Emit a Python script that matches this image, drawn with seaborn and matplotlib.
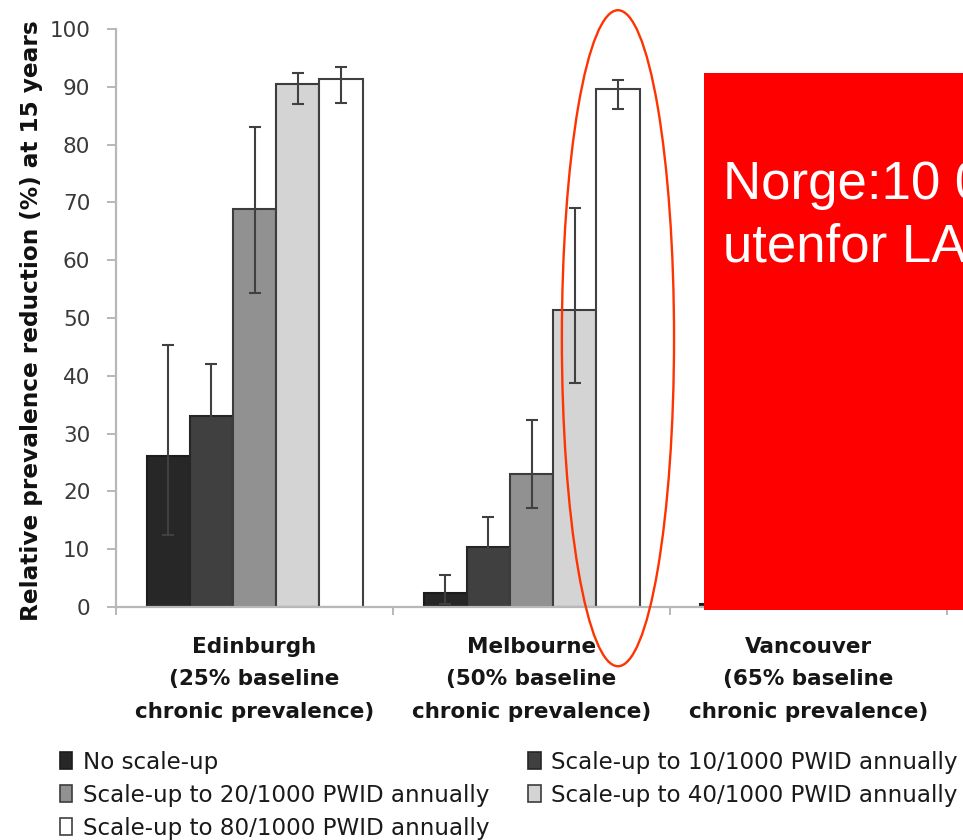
import numpy as np
import pandas as pd
import matplotlib
matplotlib.use("Agg")
import matplotlib.pyplot as plt
from matplotlib.patches import Ellipse, Rectangle, Patch
import seaborn as sns

# ---- data -------------------------------------------------------------
cities = [
    "Edinburgh\n(25% baseline\nchronic prevalence)",
    "Melbourne\n(50% baseline\nchronic prevalence)",
    "Vancouver\n(65% baseline\nchronic prevalence)",
]
scenarios = [
    "No scale-up",
    "Scale-up to 10/1000 PWID annually",
    "Scale-up to 20/1000 PWID annually",
    "Scale-up to 40/1000 PWID annually",
    "Scale-up to 80/1000 PWID annually",
]

# relative prevalence reduction (%) at 15 years: Edinburgh, Melbourne, Vancouver
no_scale_up = [26.2, 2.4, 0.5]
scale_10 = [33.1, 10.4, 3.0]
scale_20 = [68.9, 23.0, 7.5]
scale_40 = [90.5, 51.3, 19.0]
scale_80 = [91.4, 89.6, 62.0]

# uncertainty intervals (lower, upper)
no_scale_up_lo = [12.4, 0.6, 0.0]
no_scale_up_hi = [45.4, 5.5, 1.5]
scale_10_lo = [23.9, 7.8, 1.5]
scale_10_hi = [42.0, 15.6, 5.0]
scale_20_lo = [54.3, 17.1, 4.5]
scale_20_hi = [83.0, 32.4, 11.0]
scale_40_lo = [87.0, 38.7, 13.0]
scale_40_hi = [92.3, 69.1, 27.0]
scale_80_lo = [87.2, 86.2, 48.0]
scale_80_hi = [93.5, 91.2, 76.0]

values = [no_scale_up, scale_10, scale_20, scale_40, scale_80]
lows = [no_scale_up_lo, scale_10_lo, scale_20_lo, scale_40_lo, scale_80_lo]
highs = [no_scale_up_hi, scale_10_hi, scale_20_hi, scale_40_hi, scale_80_hi]

fills = ["#272727", "#404040", "#919191", "#d4d4d4", "#ffffff"]
edges = ["#1c1c1c", "#262626", "#3c3c3c", "#3c3c3c", "#404040"]

df = pd.DataFrame({
    "city": np.tile(cities, len(scenarios)),
    "scenario": np.repeat(scenarios, len(cities)),
    "value": np.concatenate(values),
})

# ---- style ------------------------------------------------------------
sns.set_style("white")
plt.rcParams["font.family"] = ["DejaVu Sans"]
axis_grey = "#b8b8b8"

fig = plt.figure(figsize=(9.63, 8.40), dpi=100)
ax = fig.add_axes([0.1205, 0.2774, 0.8629, 0.6881])

sns.barplot(
    data=df, x="city", y="value", hue="scenario",
    order=cities, hue_order=scenarios,
    palette=dict(zip(scenarios, fills)),
    width=0.78, saturation=1, errorbar=None,
    linewidth=1.5, edgecolor="#404040",
    legend=False, ax=ax,
)
bar_containers = list(ax.containers)

# per-scenario edge colours and asymmetric error bars
for i, cont in enumerate(bar_containers):
    xs = []
    for bar in cont:
        bar.set_edgecolor(edges[i])
        xs.append(bar.get_x() + bar.get_width() / 2)
    v = np.array(values[i])
    yerr = np.vstack([v - np.array(lows[i]), np.array(highs[i]) - v])
    ax.errorbar(xs, v, yerr=yerr, fmt="none", ecolor="#404040",
                elinewidth=1.5, capsize=4.5, capthick=1.5, zorder=5)

ax.set_xlim(-0.5, 2.5)
ax.set_ylim(0, 100)
ax.set_yticks(range(0, 101, 10))
ax.set_xlabel("")
ax.set_ylabel("Relative prevalence reduction (%) at 15 years",
              fontsize=16.7, fontweight="bold", color="#111111")
ax.yaxis.set_label_coords(-0.088, 0.495)

for side in ("top", "right"):
    ax.spines[side].set_visible(False)
for side in ("left", "bottom"):
    ax.spines[side].set_color(axis_grey)
    ax.spines[side].set_linewidth(1.6)

ax.tick_params(axis="y", direction="out", length=6.5, width=1.4,
               color=axis_grey, pad=12, labelsize=15.5, labelcolor="#3a3a3a",
               left=True)
ax.set_xticks([-0.5, 0.5, 1.5, 2.5], minor=True)
ax.tick_params(axis="x", which="minor", direction="out", length=6,
               width=1.4, color=axis_grey, bottom=True)
ax.tick_params(axis="x", which="major", length=0, pad=21.5,
               labelsize=15.5, labelcolor="#161616")
for lab in ax.get_xticklabels():
    lab.set_fontweight("bold")
    lab.set_linespacing(1.78)

# highlight around the Melbourne 80/1000 bar
hl_bar = bar_containers[4][1]
hl_x = hl_bar.get_x() + hl_bar.get_width() / 2
ax.add_patch(Ellipse((hl_x, 46.5), 0.405, 113.5, fill=False,
                     edgecolor="#ff3300", linewidth=1.7, clip_on=False,
                     zorder=8))

# legend in two columns, filled row by row
handles = [Patch(facecolor=f, edgecolor=e, linewidth=1.2)
           for f, e in zip(fills, edges)]
order = [0, 2, 4, 1, 3]
leg = fig.legend([handles[k] for k in order], [scenarios[k] for k in order],
                 ncol=2, loc="upper left", bbox_to_anchor=(0.062, 0.106),
                 bbox_transform=fig.transFigure, frameon=False,
                 fontsize=16.6, handlelength=0.55, handleheight=0.75,
                 handletextpad=0.45, columnspacing=1.68, labelspacing=0.43,
                 borderpad=0, borderaxespad=0)
for t in leg.get_texts():
    t.set_color("#1a1a1a")

# red note box
fig.add_artist(Rectangle((704 / 963, 1 - 610 / 840), 1 - 704 / 963 + 0.01,
                         (610 - 73) / 840, transform=fig.transFigure,
                         facecolor="#ff0000", edgecolor="none", zorder=10))
fig.text(723 / 963, 1 - 199 / 840, "Norge:10 000", color="white", fontsize=38,
         family="Liberation Sans", va="baseline", ha="left", zorder=11)
fig.text(723 / 963, 1 - 262 / 840, "utenfor LAR", color="white", fontsize=38,
         family="Liberation Sans", va="baseline", ha="left", zorder=11)

fig.savefig("out.png", dpi=100)
